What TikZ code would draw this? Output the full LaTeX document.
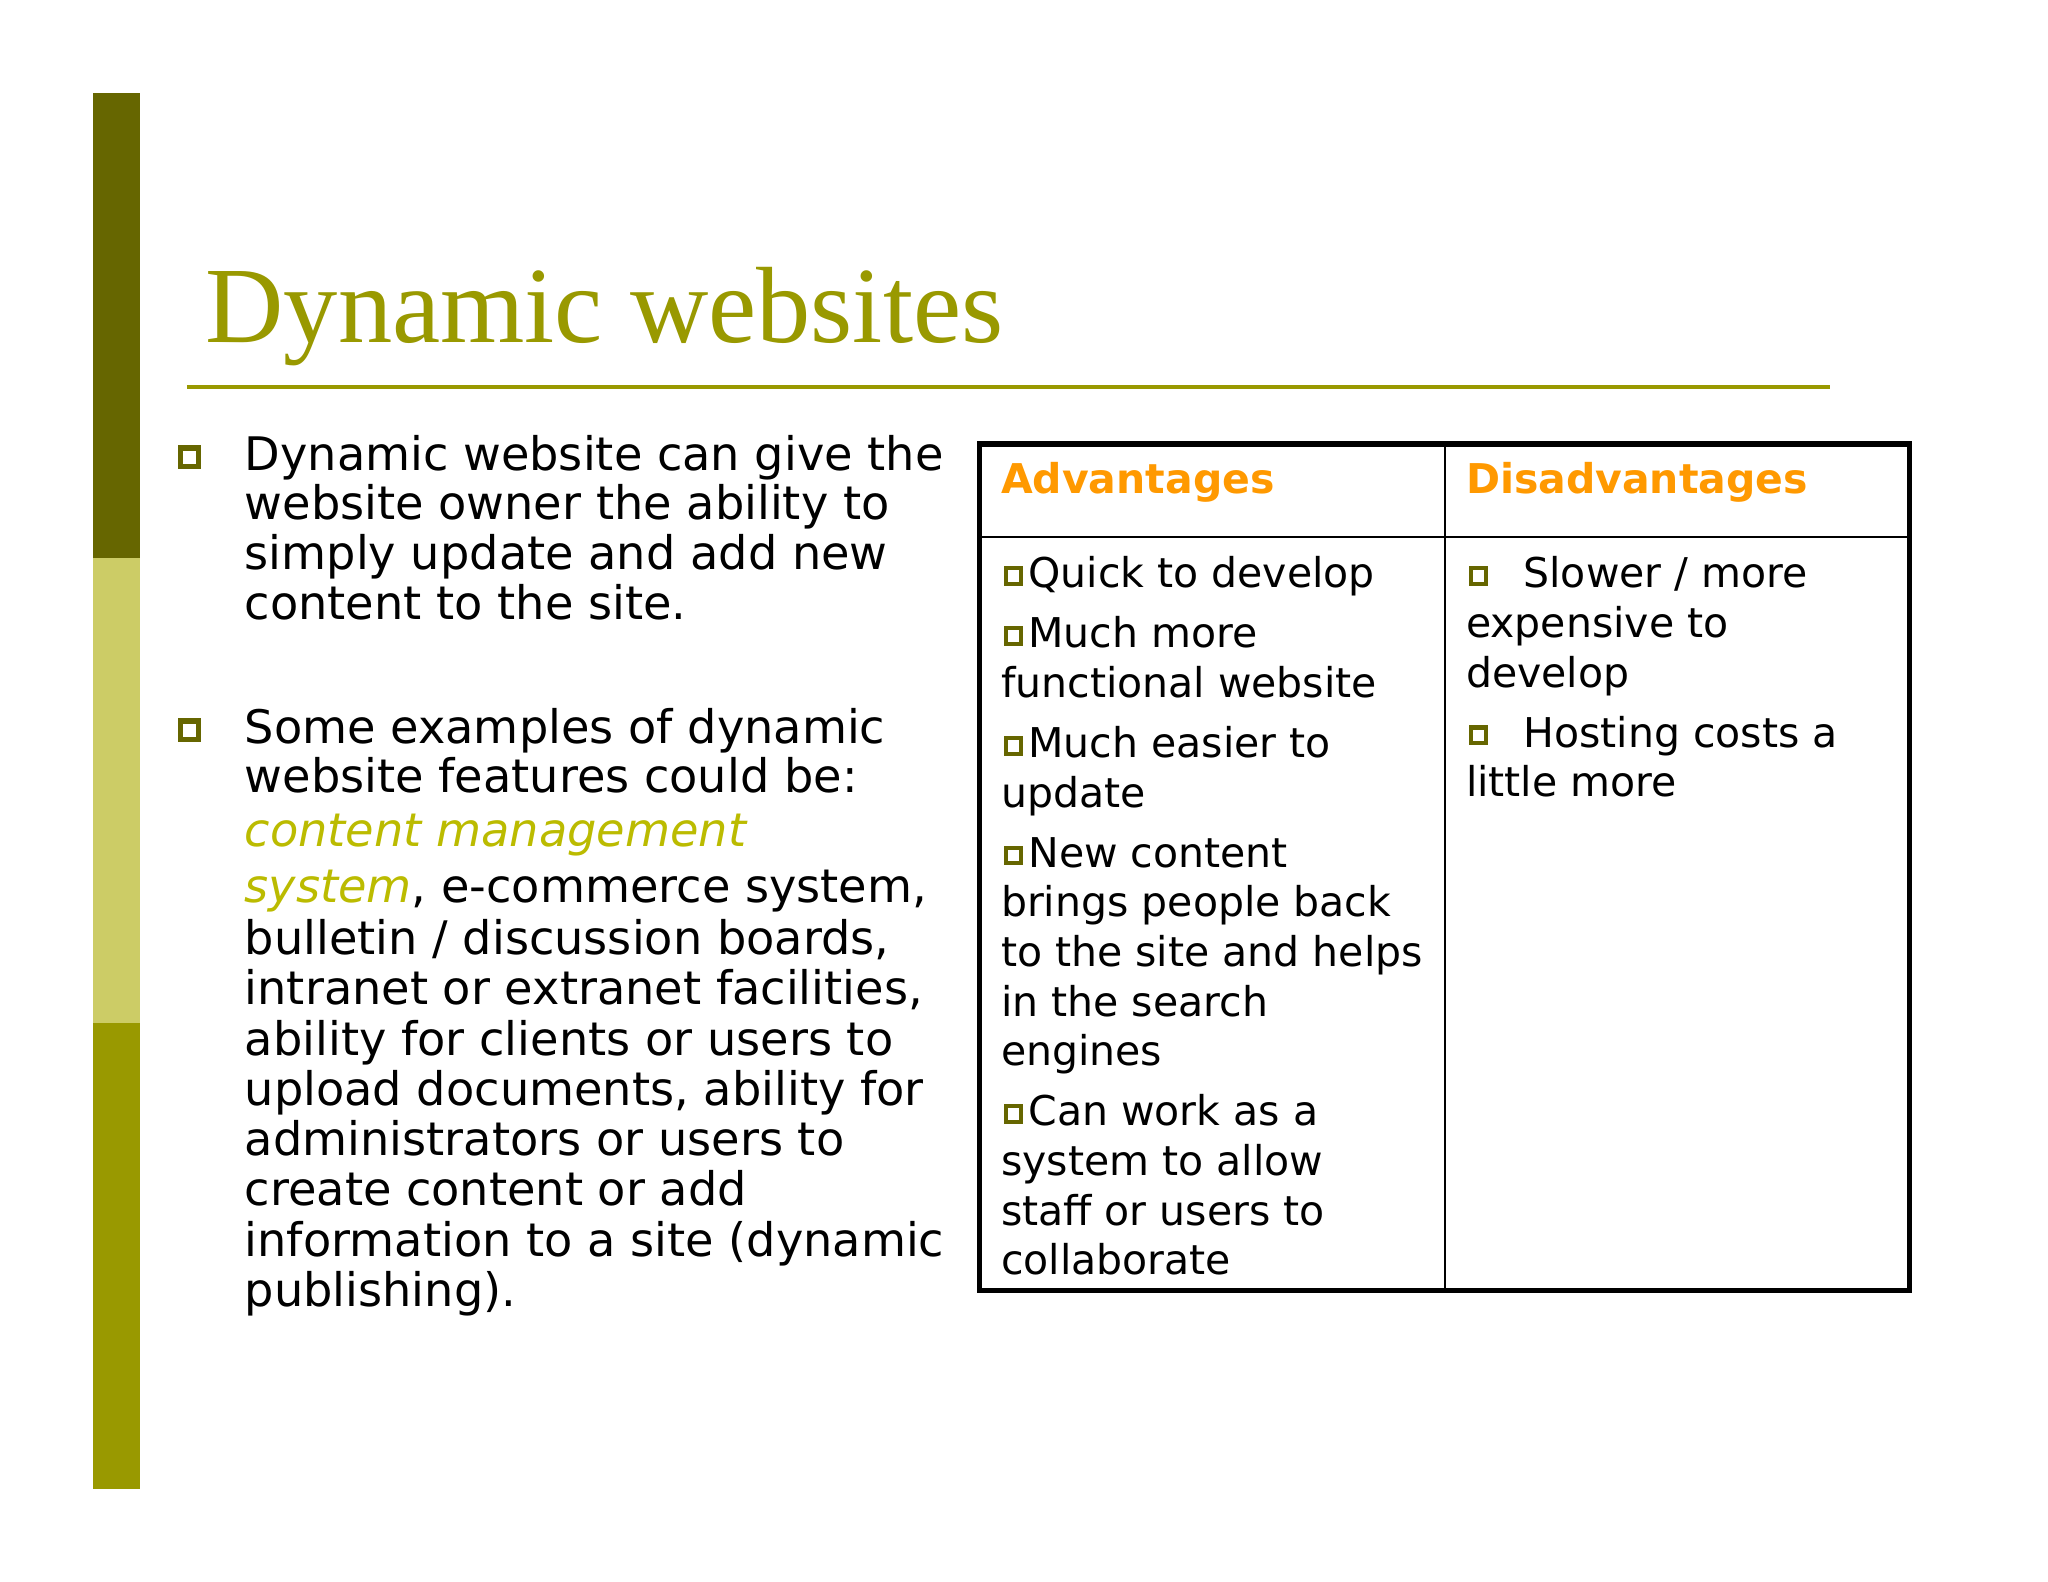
\documentclass[tikz,border=0pt]{standalone}
\usepackage{fontspec}
\setmainfont{DejaVu Sans}
\newfontfamily\titlefont{Liberation Serif}
\definecolor{olive1}{HTML}{666600}
\definecolor{olive2}{HTML}{CCCC66}
\definecolor{olive3}{HTML}{999900}
\definecolor{oran}{HTML}{FF9900}
\definecolor{cmsc}{HTML}{BBBB00}
\begin{document}
\begin{tikzpicture}[x=0.5pt,y=-0.5pt,
  body/.style={anchor=base west,inner sep=0pt,font=\fontsize{17.7}{19}\selectfont},
  tbody/.style={anchor=base west,inner sep=0pt,font=\fontsize{15.7}{19}\selectfont},
  bigbul/.style={draw=olive1,line width=2pt,minimum size=7pt,inner sep=0pt},
  smallbul/.style={draw=olive1,line width=1.6pt,minimum size=6pt,inner sep=0pt},
  head/.style={anchor=base west,inner sep=0pt,font=\fontsize{15.7}{19}\selectfont\bfseries,text=oran}]
\useasboundingbox (0,0) rectangle (1568,1211);
\fill[white] (0,0) rectangle (1568,1211);
\fill[olive1] (71,71) rectangle (107,427);
\fill[olive2] (71,427) rectangle (107,783);
\fill[olive3] (71,783) rectangle (107,1140);
\node[anchor=base west,inner sep=0pt,text=olive3,font=\titlefont\fontsize{41.5}{41.5}\selectfont] (title) at (157,262) {Dynamic websites};
\coordinate (la) at (143,296); \coordinate (lb) at (1401,296);
\draw[olive3,line width=1.5pt] (la) -- (lb);
\node[bigbul] (b1) at (145,350) {};
\node[bigbul] (b2) at (145,559) {};
\node[body] (p1) at (187,360) {Dynamic website can give the};
\node[body] (p2) at (187,398) {website owner the ability to};
\node[body] (p3) at (187,436) {simply update and add new};
\node[body] (p4) at (187,474) {content to the site.};
\node[body] (q1) at (187,569) {Some examples of dynamic};
\node[body] (q2) at (187,607) {website features could be:};
\node[body,text=cmsc] (q3) at (187,648) {\itshape content management};
\node[body] (q4) at (187,691) {\textcolor{cmsc}{\itshape system}, e-commerce system,};
\node[body] (q5) at (187,731) {bulletin / discussion boards,};
\node[body] (q6) at (187,769) {intranet or extranet facilities,};
\node[body] (q7) at (187,808) {ability for clients or users to};
\node[body] (q8) at (187,846) {upload documents, ability for};
\node[body] (q9) at (187,885) {administrators or users to};
\node[body] (q10) at (187,923) {create content or add};
\node[body] (q11) at (187,962) {information to a site (dynamic};
\node[body] (q12) at (187,1000) {publishing).};
% table
\draw[line width=2pt] (750,340) rectangle (1462,988);
\draw[line width=0.8pt] (750,411) -- (1462,411);
\draw[line width=0.8pt] (1106,340) -- (1106,988);
\node[head] (h1) at (766,378) {Advantages};
\node[head] (h2) at (1122,378) {Disadvantages};
\node[smallbul] at (776,441) {};
\node[tbody] at (787,450) {Quick to develop};
\node[smallbul] at (776,487) {};
\node[tbody] at (787,496) {Much more};
\node[tbody] at (766,534) {functional website};
\node[smallbul] at (776,571) {};
\node[tbody] at (787,580) {Much easier to};
\node[tbody] at (766,618) {update};
\node[smallbul] at (776,655) {};
\node[tbody] at (787,664) {New content};
\node[tbody] at (766,702) {brings people back};
\node[tbody] at (766,740) {to the site and helps};
\node[tbody] at (766,778) {in the search};
\node[tbody] at (766,816) {engines};
\node[smallbul] at (776,853) {};
\node[tbody] at (787,862) {Can work as a};
\node[tbody] at (766,900) {system to allow};
\node[tbody] at (766,938) {staff or users to};
\node[tbody] at (766,976) {collaborate};
\node[smallbul] at (1132,441) {};
\node[tbody] at (1166,450) {Slower / more};
\node[tbody] at (1122,488) {expensive to};
\node[tbody] at (1122,526) {develop};
\node[smallbul] at (1132,563) {};
\node[tbody] at (1166,572) {Hosting costs a};
\node[tbody] at (1122,610) {little more};
\end{tikzpicture}
\end{document}
